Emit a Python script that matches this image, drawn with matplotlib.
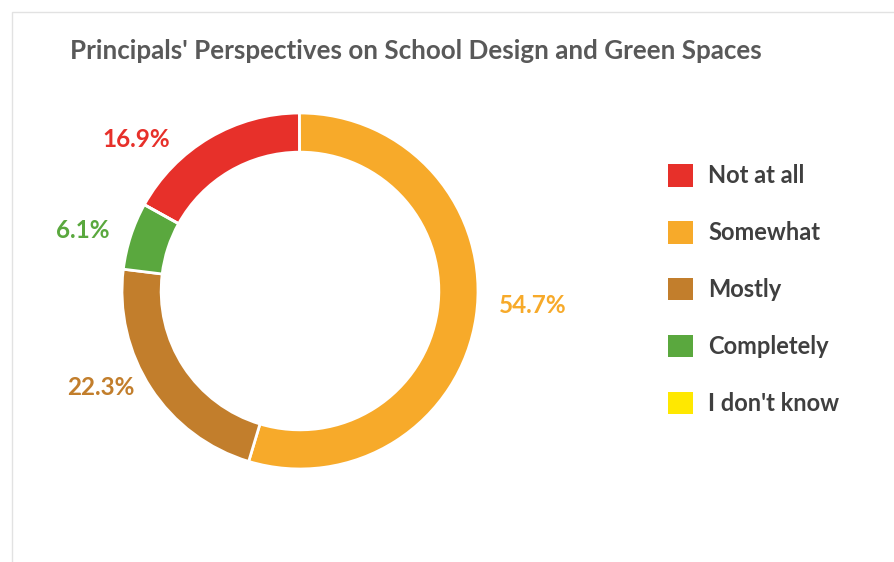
import matplotlib.pyplot as plt
from matplotlib.patches import Patch, Rectangle

# data
categories = ['Not at all', 'Somewhat', 'Mostly', 'Completely', "I don't know"]
shares = [16.9, 54.7, 22.3, 6.1, 0.0]
colors = ['#E7302A', '#F7AA2A', '#C27E2C', '#5AA83E', '#FFE800']
title = "Principals' Perspectives on School Design and Green Spaces"

# where Excel put the percentage labels (units of outer radius)
label_xy = [(-0.92, 0.85), (1.31, -0.08), (-1.12, -0.54), (-1.22, 0.34), None]

plt.rcParams['font.family'] = ['Lato', 'DejaVu Sans']

fig = plt.figure(figsize=(8.95, 5.62), dpi=100, facecolor='white')
fig.patches.append(Rectangle((12 / 895, -0.1), 1.2, 1 - 12 / 562 + 0.1,
                             transform=fig.transFigure, fill=False,
                             edgecolor='#e2e2e2', linewidth=1))

fig.text(70 / 895, 1 - 51 / 562, title, fontsize=18.7, fontweight='bold',
         color='#595959', va='center', ha='left')

# donut axes, centre at (300, 291) px, outer radius 178 px
half = 249
ax = fig.add_axes([(300 - half) / 895, (562 - 291 - half) / 562,
                   2 * half / 895, 2 * half / 562])

wedges, _ = ax.pie(shares, colors=colors, startangle=151, counterclock=False,
                   radius=1, wedgeprops=dict(width=0.22, edgecolor='white',
                                             linewidth=2))
a = half / 178
ax.set_xlim(-a, a)
ax.set_ylim(-a, a)
ax.axis('off')

for val, col, pos in zip(shares, colors, label_xy):
    if pos is None:
        continue
    ax.text(pos[0], pos[1], '%.1f%%' % val, color=col, fontsize=17.5,
            fontweight='bold', ha='center', va='center')

handles = [Patch(facecolor=c, edgecolor='none') for c in colors]
leg = fig.legend(handles, categories, loc='upper left',
                 bbox_to_anchor=(668 / 895, 1 - 164 / 562), frameon=False,
                 prop=dict(family='Lato', weight='bold', size=17),
                 labelcolor='#3f3f3f', handlelength=1.05, handleheight=1.1,
                 handletextpad=0.65, labelspacing=1.42,
                 borderpad=0, borderaxespad=0)

fig.savefig('out.png', dpi=100, facecolor='white')
